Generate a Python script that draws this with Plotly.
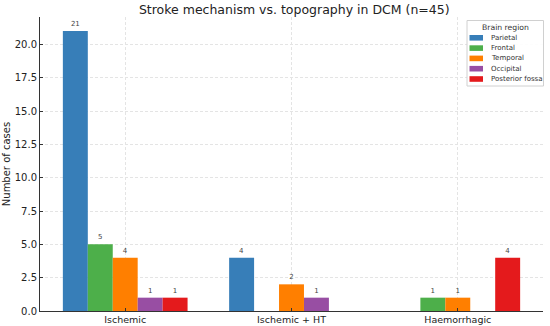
import plotly.graph_objects as go

categories = ["Ischemic", "Ischemic + HT", "Haemorrhagic"]
regions = ["Parietal", "Frontal", "Temporal", "Occipital", "Posterior fossa"]
parietal = [21, 4, 0]
frontal = [5, 0, 1]
temporal = [4, 2, 1]
occipital = [1, 1, 0]
posterior_fossa = [1, 0, 4]
colors = ["#377eb8", "#4daf4a", "#ff7f00", "#984ea3", "#e41a1c"]
y_ticks = [0, 2.5, 5, 7.5, 10, 12.5, 15, 17.5, 20]

series = [parietal, frontal, temporal, occipital, posterior_fossa]

W, H = 550, 326
ML, MR, MT, MB = 40, 7, 17, 15
PW, PH = W - ML - MR, H - MT - MB


def px(x):
    return (x - ML) / PW


def py(y):
    return (H - MB - y) / PH


FONT = "DejaVu Sans"
fig = go.Figure()
for name, vals, col in zip(regions, series, colors):
    fig.add_trace(go.Bar(
        x=categories, y=vals, name=name,
        marker=dict(color=col, line=dict(width=0)),
        text=[str(v) if v else "" for v in vals],
        textposition="outside", cliponaxis=False,
        textfont=dict(size=7, color="#444", family=FONT),
        showlegend=False, hoverinfo="skip",
    ))

# legend box (drawn manually to match compact matplotlib legend)
shapes = [dict(type="rect", xref="paper", yref="paper",
               x0=px(467), x1=px(543.5), y0=py(86), y1=py(20.5),
               line=dict(color="#d0d0d0", width=1), fillcolor="rgba(255,255,255,0.9)",
               layer="above")]
annotations = [dict(text="Brain region", xref="paper", yref="paper",
                    x=px(505), y=py(27), xanchor="center", yanchor="middle",
                    showarrow=False, font=dict(size=7.7, family=FONT, color="#333"))]
for i, (name, col) in enumerate(zip(regions, colors)):
    yc = 37.8 + i * 10.3
    shapes.append(dict(type="rect", xref="paper", yref="paper",
                       x0=px(469.5), x1=px(483), y0=py(yc + 2.8), y1=py(yc - 2.8),
                       line=dict(width=0), fillcolor=col, layer="above"))
    annotations.append(dict(text=name, xref="paper", yref="paper",
                            x=px(488.5), y=py(yc), xanchor="left", yanchor="middle",
                            showarrow=False, font=dict(size=7, family=FONT, color="#333")))

fig.update_layout(
    width=W, height=H,
    margin=dict(l=ML, r=MR, t=MT, b=MB),
    paper_bgcolor="white", plot_bgcolor="white",
    barmode="group", bargap=0.25, bargroupgap=0,
    font=dict(family=FONT, color="#222"),
    title=dict(text="Stroke mechanism vs. topography in DCM (n=45)",
               x=0.535, xanchor="center", y=0.97, yanchor="middle",
               font=dict(size=12.5, family=FONT, color="#222")),
    showlegend=False,
    shapes=shapes, annotations=annotations,
)
fig.update_xaxes(
    range=[-0.5125, 2.5125], showgrid=True, gridcolor="#e4e4e4", griddash="3px,2px",
    showline=True, linecolor="#333", linewidth=1,
    ticks="inside", ticklen=3, tickcolor="#333", automargin=False,
    tickfont=dict(size=9.5, family=FONT, color="#222"),
)
fig.update_yaxes(
    range=[0, 22.05], tickvals=y_ticks, ticktext=[f"{v:.1f}" for v in y_ticks],
    showgrid=True, gridcolor="#e4e4e4", griddash="3px,2px",
    showline=True, linecolor="#333", linewidth=1, zeroline=False,
    ticks="inside", ticklen=3, tickcolor="#333", automargin=False,
    tickfont=dict(size=10, family=FONT, color="#222"),
    title=dict(text="Number of cases", font=dict(size=10, family=FONT, color="#222"), standoff=2),
)
fig.write_html("out.html", config={"displayModeBar": False},
               post_script="document.body.style.margin='0';document.body.style.padding='0';")
